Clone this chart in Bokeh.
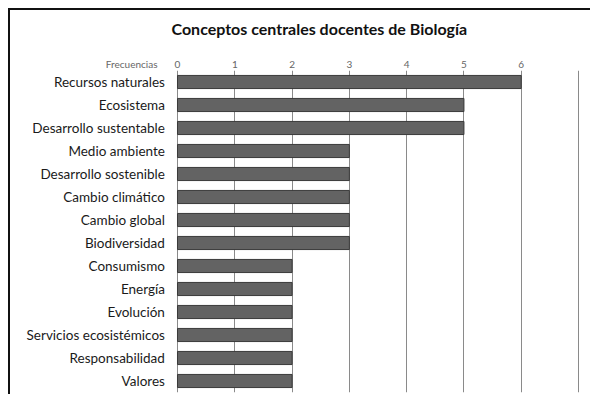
from bokeh.plotting import figure
from bokeh.models import ColumnDataSource, FixedTicker, Range1d, FactorRange, Title
from bokeh.core.properties import value
from bokeh.embed import file_html
from bokeh.resources import INLINE

title_text = "Conceptos centrales docentes de Biología"
axis_caption = "Frecuencias"
conceptos = ["Recursos naturales", "Ecosistema", "Desarrollo sustentable",
             "Medio ambiente", "Desarrollo sostenible", "Cambio climático",
             "Cambio global", "Biodiversidad", "Consumismo", "Energía",
             "Evolución", "Servicios ecosistémicos", "Responsabilidad", "Valores"]
frecuencias = [6, 5, 5, 3, 3, 3, 3, 3, 2, 2, 2, 2, 2, 2]
x_ticks = [0, 1, 2, 3, 4, 5, 6]
grid_ticks = [0, 1, 2, 3, 4, 5, 6, 7]
caption_pos = -0.8
label_pos = -0.22

src = ColumnDataSource(dict(c=conceptos, f=frecuencias, lx=[label_pos] * len(conceptos)))

p = figure(width=582, height=386, output_backend="svg", toolbar_location=None,
           y_range=FactorRange(factors=list(reversed(conceptos)), range_padding=0),
           x_range=Range1d(-2.915, 7.244), x_axis_location="above",
           min_border_left=0, min_border_right=0, min_border_top=60, min_border_bottom=4)
p.styles = {"margin": "8px 0 0 8px", "border-left": "2px solid #111", "border-top": "2px solid #111"}
p.outline_line_color = None

p.title.text = title_text
p.title.align = "left"
p.title.offset = 161
p.title.text_font = "Lato"
p.title.text_font_style = "bold"
p.title.text_font_size = "16px"
p.title.text_color = "#111111"
p.title.standoff = 0

p.add_layout(Title(text=" ", text_font_size="13px", standoff=0), "above")

p.hbar(y="c", right="f", height=0.57, source=src, fill_color="#636363",
       line_color="#3a3a3a", line_width=1)
p.text(x="lx", y="c", text="c", source=src, text_align="right", text_baseline="middle",
       text_font=value("Lato"), text_font_size="13.5px", text_color="#1a1a1a")

p.ygrid.grid_line_color = None
p.yaxis.visible = False
p.xgrid.ticker = FixedTicker(ticks=grid_ticks)
p.xgrid.grid_line_color = "#8a8a8a"
p.xgrid.grid_line_width = 1

xa = p.xaxis[0]
xa.ticker = FixedTicker(ticks=[caption_pos] + x_ticks)
xa.major_label_overrides = {caption_pos: axis_caption}
xa.axis_line_color = None
xa.major_tick_line_color = None
xa.minor_tick_line_color = None
xa.major_label_text_font = "Lato"
xa.major_label_text_font_size = "10px"
xa.major_label_text_color = "#666666"
xa.major_label_standoff = -5

open("out.html", "w").write(file_html(p, INLINE))
